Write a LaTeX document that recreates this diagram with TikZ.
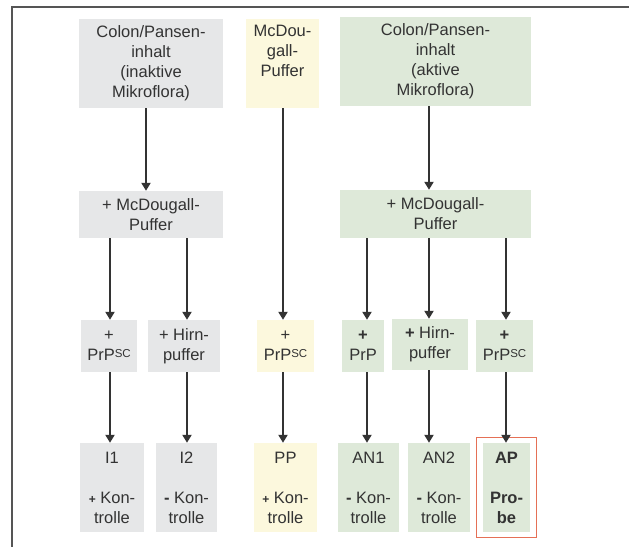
\documentclass[tikz,border=0pt]{standalone}
\usepackage{fontspec}
\setmainfont{Liberation Sans}
\usetikzlibrary{arrows.meta}

\definecolor{boxgray}{RGB}{230,231,232}
\definecolor{boxyellow}{RGB}{252,248,221}
\definecolor{boxgreen}{RGB}{222,233,217}
\definecolor{txtgray}{RGB}{51,51,51}
\definecolor{framered}{RGB}{229,112,86}
\definecolor{rulegray}{RGB}{85,85,85}

% small bold signs in front of "Kontrolle"
\newcommand{\kplus}{{\bfseries\fontsize{12}{20}\selectfont +}}
\newcommand{\kminus}{\textbf{-}}
% superscript "SC" of PrP, slightly raised
\newcommand{\scsup}{\raisebox{3.5pt}{\fontsize{11.5}{12}\selectfont SC}}

\tikzset{
  box/.style={inner sep=0pt, align=center, text=txtgray},
  gbox/.style={box, fill=boxgray},
  ybox/.style={box, fill=boxyellow},
  nbox/.style={box, fill=boxgreen},
  arr/.style={draw=txtgray, line width=2pt, -{Triangle[length=8pt,width=9pt]}},
}

\begin{document}
\begin{tikzpicture}[x=1pt, y=-1pt, font=\fontsize{16.5}{20}\selectfont]
\useasboundingbox (0,0) rectangle (629,547);

% outer rule (top and left)
\draw[rulegray, line width=2pt] (629,6.5) -| (12,547);

% column positions of the arrows
\coordinate (xg1) at (110,0);
\coordinate (xg2) at (187,0);
\coordinate (xy)  at (283,0);
\coordinate (xn1) at (367,0);
\coordinate (xn2) at (429,0);
\coordinate (xn3) at (506,0);
\coordinate (xgt) at (146,0);
\coordinate (xnt) at (429,0);

% top row
\node[gbox, minimum width=144pt, minimum height=89pt] (c1) at (151,63.5)
  {Colon/Pansen-\\inhalt\\(inaktive\\Mikroflora)};
\node[ybox, minimum width=73pt, minimum height=89pt] (c2) at (282.5,63.5)
  {McDou-\\gall-\\Puffer\\\strut};
\node[nbox, minimum width=191pt, minimum height=89pt] (c3) at (435.5,61.5)
  {Colon/Pansen-\\inhalt\\(aktive\\Mikroflora)};

% buffer row
\node[gbox, minimum width=144pt, minimum height=47pt] (m1) at (151,214.5)
  {+ McDougall-\\Puffer};
\node[nbox, minimum width=191pt, minimum height=48pt] (m3) at (435.5,214)
  {+ McDougall-\\Puffer};

% additive row
\node[gbox, minimum width=56pt, minimum height=52pt] (p1) at (109,346)
  {+\\PrP\scsup};
\node[gbox, minimum width=72pt, minimum height=52pt] (p2) at (184,346)
  {+ Hirn-\\puffer};
\node[ybox, minimum width=57pt, minimum height=52pt] (p3) at (285.5,346)
  {+\\PrP\scsup};
\node[nbox, minimum width=42pt, minimum height=52pt] (p4) at (363,346)
  {\textbf{+}\\PrP};
\node[nbox, minimum width=76pt, minimum height=51pt] (p5) at (430,344.5)
  {\textbf{+} Hirn-\\puffer};
\node[nbox, minimum width=57pt, minimum height=52pt] (p6) at (504.5,346)
  {\textbf{+}\\PrP\scsup};

% result row
\node[gbox, minimum width=64pt, minimum height=89pt] (b1) at (112,487.5)
  {I1\\\strut\\\kplus\ Kon-\\trolle};
\node[gbox, minimum width=61pt, minimum height=89pt] (b2) at (186.5,487.5)
  {I2\\\strut\\\kminus\ Kon-\\trolle};
\node[ybox, minimum width=63pt, minimum height=89pt] (b3) at (285.5,487.5)
  {PP\\\strut\\\kplus\ Kon-\\trolle};
\node[nbox, minimum width=61pt, minimum height=89pt] (b4) at (368.5,487.5)
  {AN1\\\strut\\\kminus\ Kon-\\trolle};
\node[nbox, minimum width=62pt, minimum height=89pt] (b5) at (439,487.5)
  {AN2\\\strut\\\kminus\ Kon-\\trolle};
\node[nbox, minimum width=47pt, minimum height=89pt] (b6) at (506.5,487.5)
  {\textbf{AP}\\\strut\\\textbf{Pro-}\\\textbf{be}};
\draw[framered, line width=1.2pt]
  ([shift={(-6pt,5pt)}]b6.north west) rectangle ([shift={(6pt,-5pt)}]b6.south east);

% connectors
\draw[arr] (c1.south -| xgt) -- (m1.north -| xgt);
\draw[arr] (c3.south -| xnt) -- (m3.north -| xnt);
\draw[arr] (c2.south -| xy) -- (p3.north -| xy);

\draw[arr] (m1.south -| xg1) -- (p1.north -| xg1);
\draw[arr] (m1.south -| xg2) -- (p2.north -| xg2);
\draw[arr] (m3.south -| xn1) -- (p4.north -| xn1);
\draw[arr] (m3.south -| xn2) -- (p5.north -| xn2);
\draw[arr] (m3.south -| xn3) -- (p6.north -| xn3);

\draw[arr] (p1.south -| xg1) -- (b1.north -| xg1);
\draw[arr] (p2.south -| xg2) -- (b2.north -| xg2);
\draw[arr] (p3.south -| xy) -- (b3.north -| xy);
\draw[arr] (p4.south -| xn1) -- (b4.north -| xn1);
\draw[arr] (p5.south -| xn2) -- (b5.north -| xn2);
\draw[arr] (p6.south -| xn3) -- (b6.north -| xn3);
\end{tikzpicture}
\end{document}
